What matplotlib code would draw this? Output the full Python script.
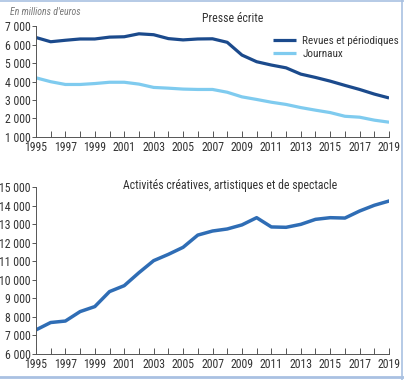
import matplotlib
matplotlib.use("Agg")
import matplotlib.pyplot as plt
from matplotlib.lines import Line2D
from matplotlib.ticker import FuncFormatter
from matplotlib import font_manager

# Data (millions d'euros)
years = list(range(1995, 2020))
revues = [6380, 6150, 6230, 6300, 6300, 6400, 6420, 6580, 6530, 6320, 6250, 6300,
          6310, 6120, 5430, 5070, 4890, 4740, 4400, 4220, 4020, 3790, 3570, 3320, 3110]
journaux = [4200, 3990, 3840, 3840, 3890, 3960, 3960, 3860, 3680, 3640, 3590, 3570,
            3570, 3420, 3170, 3030, 2880, 2760, 2590, 2450, 2320, 2120, 2070, 1910, 1800]
creatives = [7300, 7700, 7780, 8290, 8560, 9370, 9690, 10390, 11040, 11380, 11760, 12420,
             12640, 12750, 12970, 13360, 12860, 12840, 13000, 13270, 13360, 13340, 13720, 14030, 14260]

# condensed font, like the original
names = {f.name for f in font_manager.fontManager.ttflist}
font = next((n for n in ['Roboto Condensed', 'Archivo Narrow', 'Liberation Sans Narrow']
             if n in names), 'DejaVu Sans')
plt.rcParams['font.family'] = [font, 'DejaVu Sans']
plt.rcParams['font.size'] = 8

DARK = '#1b4a8c'
LIGHT = '#7fcbef'
MID = '#2f6db5'
TXT = '#333333'

fig = plt.figure(figsize=(4.04, 3.80), dpi=100)

def fmt(v, pos):
    return f'{int(v):,}'.replace(',', ' ')

def style(ax, ymin, ymax, step):
    ax.set_xlim(1995, 2019)
    ax.set_ylim(ymin, ymax)
    ax.set_yticks(range(ymin, ymax + 1, step))
    ax.yaxis.set_major_formatter(FuncFormatter(fmt))
    ax.set_xticks(years)
    ax.set_xticklabels([str(y) if y % 2 == 1 else '' for y in years])
    for s in ['top', 'right']:
        ax.spines[s].set_visible(False)
    for s in ['left', 'bottom']:
        ax.spines[s].set_color('#555555')
        ax.spines[s].set_linewidth(0.7)
    ax.tick_params(axis='x', direction='in', length=4, width=0.7, color='#555555',
                   pad=3, labelsize=8.5, labelcolor=TXT)
    ax.tick_params(axis='y', direction='out', length=3, width=0.7, color='#555555',
                   pad=1, labelsize=8.5, labelcolor=TXT)

ax1 = fig.add_axes([0.089, 0.6395, 0.874, 0.292])
ax1.plot(years, revues, color=DARK, lw=2.3, label='Revues et périodiques', solid_capstyle='butt')
ax1.plot(years, journaux, color=LIGHT, lw=2.3, label='Journaux', solid_capstyle='butt')
style(ax1, 1000, 7000, 1000)
ax1.legend(loc='upper left', bbox_to_anchor=(0.66, 0.95), frameon=False, fontsize=8,
           handlelength=2.0, handletextpad=0.6, labelspacing=0.3, labelcolor=TXT,
           borderaxespad=0)
fig.text(0.575, 0.95, 'Presse écrite', ha='center', va='center', fontsize=8.5, color=TXT)
fig.text(0.025, 0.968, "En millions d'euros", ha='left', va='center', fontsize=7,
         style='italic', color='#777777')

ax2 = fig.add_axes([0.089, 0.0684, 0.874, 0.4387])
ax2.plot(years, creatives, color=MID, lw=2.5)
style(ax2, 6000, 15000, 1000)
fig.text(0.57, 0.513, 'Activités créatives, artistiques et de spectacle', ha='center',
         va='center', fontsize=8.5, color=TXT)

# frame
bc = '#a9c1e2'
fig.add_artist(Line2D([0, 1], [0.997, 0.997], transform=fig.transFigure, color=bc, lw=1.2))
fig.add_artist(Line2D([0.996, 0.996], [0, 1], transform=fig.transFigure, color=bc, lw=1.2))
fig.add_artist(Line2D([0, 1], [0.008, 0.008], transform=fig.transFigure, color=bc, lw=2))

fig.savefig('out.png', dpi=100, facecolor='white')
